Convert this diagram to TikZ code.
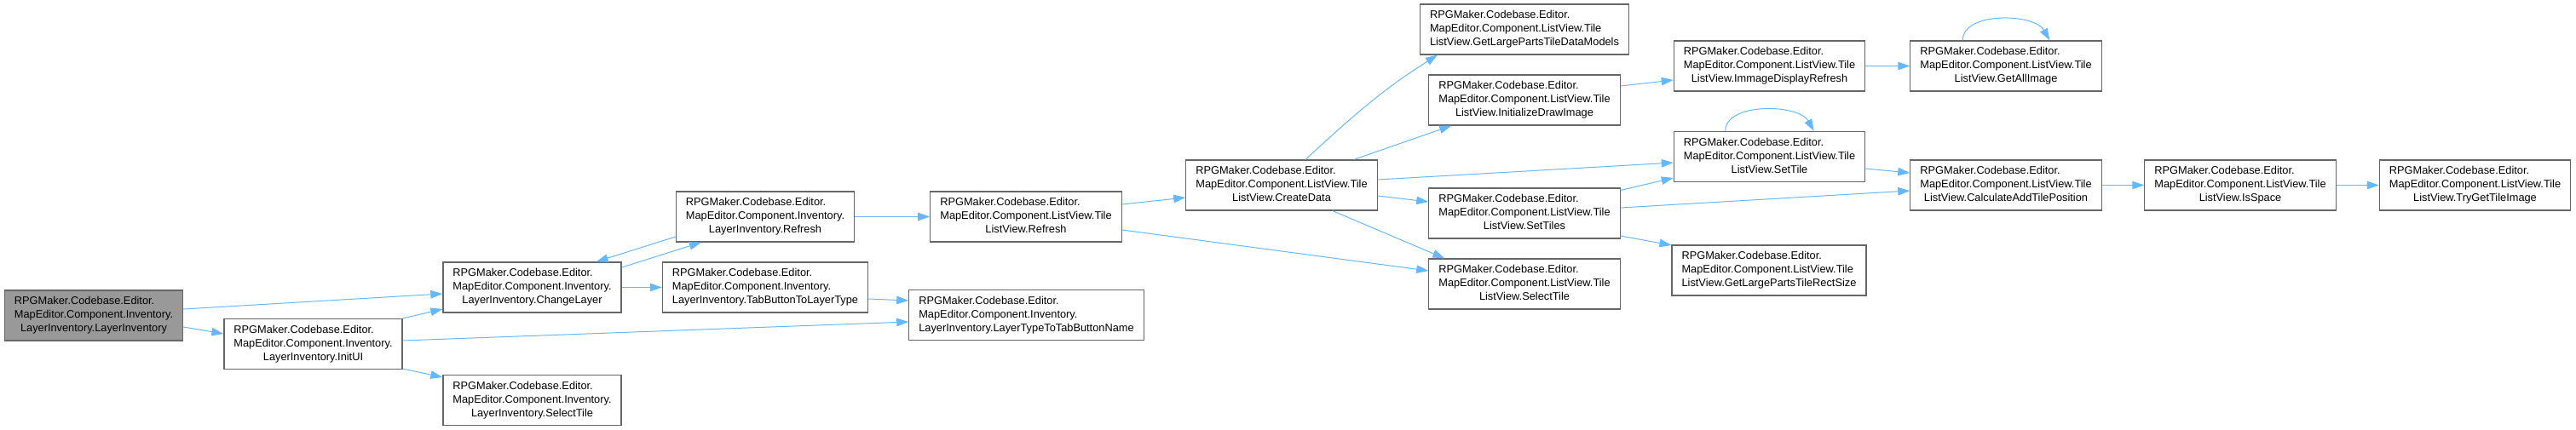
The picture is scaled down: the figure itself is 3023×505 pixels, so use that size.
\documentclass[tikz,border=0pt]{standalone}
\usepackage{fontspec}
\setmainfont{Liberation Sans}
\usetikzlibrary{arrows.meta,calc}
\definecolor{edg}{HTML}{63B8FF}
\definecolor{brd}{HTML}{666666}
\definecolor{rootfill}{HTML}{999999}
\newcommand{\inv}[1]{\begin{tabular}{@{}l@{}}RPGMaker.Codebase.Editor.\\MapEditor.Component.Inventory.\\\multicolumn{1}{@{}c@{}}{#1}\end{tabular}}
\newcommand{\tlv}[1]{\begin{tabular}{@{}l@{}}RPGMaker.Codebase.Editor.\\MapEditor.Component.ListView.Tile\\\multicolumn{1}{@{}c@{}}{ListView.#1}\end{tabular}}
\tikzset{
  fn/.style={draw=brd,line width=1.2pt,fill=white,inner xsep=11.5pt,inner ysep=5.5pt,
    minimum height=59pt,font=\fontsize{12.8}{16}\selectfont},
  call/.style={draw=edg,line width=1pt,-{Triangle[length=14pt,width=9.5pt]}}
}

\begin{document}
\begin{tikzpicture}[x=1pt,y=-1pt]
  \useasboundingbox (0,0) rectangle (3023,505);
  % functions, one column per call depth
  \node[fn,fill=rootfill] (root) at (110,370.5) {\inv{LayerInventory.LayerInventory}};
  \node[fn] (initui)   at (367.5,404)  {\inv{LayerInventory.InitUI}};
  \node[fn] (chglayer) at (624.5,337.5){\inv{LayerInventory.ChangeLayer}};
  \node[fn] (lselect)  at (624.5,470)  {\inv{LayerInventory.SelectTile}};
  \node[fn] (lrefresh) at (898,254.5)  {\inv{LayerInventory.Refresh}};
  \node[fn] (tabbtn)   at (898,337.5)  {\inv{LayerInventory.TabButtonToLayerType}};
  \node[fn] (trefresh) at (1204,254.5) {\tlv{Refresh}};
  \node[fn] (ltotab)   at (1204.5,370) {\inv{LayerInventory.LayerTypeToTabButtonName}};
  \node[fn] (cdata)    at (1504,217.5) {\tlv{CreateData}};
  \node[fn] (glmodels) at (1789,34.5)  {\tlv{GetLargePartsTileDataModels}};
  \node[fn] (idraw)    at (1789,117.5) {\tlv{InitializeDrawImage}};
  \node[fn] (stiles)   at (1789,250.5) {\tlv{SetTiles}};
  \node[fn] (tselect)  at (1789,333.5) {\tlv{SelectTile}};
  \node[fn] (idisp)    at (2076.5,77.5){\tlv{ImmageDisplayRefresh}};
  \node[fn] (stile)    at (2076.5,184) {\tlv{SetTile}};
  \node[fn] (rsize)    at (2076,317.5) {\tlv{GetLargePartsTileRectSize}};
  \node[fn] (gall)     at (2354,77.5)  {\tlv{GetAllImage}};
  \node[fn] (calcpos)  at (2354,217.5) {\tlv{CalculateAddTilePosition}};
  \node[fn] (isspace)  at (2629,217.5) {\tlv{IsSpace}};
  \node[fn] (tgetimg)  at (2904.5,217.5){\tlv{TryGetTileImage}};

  % calls
  \draw[call] ($(root.east)+(0,-7.5)$) -- ($(chglayer.west)+(0,7.5)$);
  \draw[call] ($(root.east)+(0,13.5)$) -- ($(initui.west)+(0,-12)$);
  \draw[call] (initui.north east) -- ($(chglayer.west)+(0,25.5)$);
  \draw[call] ($(initui.east)+(0,-4)$) -- ($(ltotab.west)+(0,8)$);
  \draw[call] ($(initui.south east)+(0,-1)$) -- ($(lselect.west)+(0,-27)$);
  \draw[call] ($(chglayer.east)+(0,-23.5)$) -- ($(lrefresh.south west)+(30,0)$);
  \draw[call] ($(lrefresh.west)+(0,23.5)$) -- ($(chglayer.north east)+(-30,0)$);
  \draw[call] (chglayer.east) -- (tabbtn.west);
  \draw[call] ($(tabbtn.east)+(0,13.5)$) -- ($(ltotab.west)+(0,-17)$);
  \draw[call] (lrefresh.east) -- (trefresh.west);
  \draw[call] ($(trefresh.east)+(0,-14.5)$) -- ($(cdata.west)+(0,14.5)$);
  \draw[call] ($(trefresh.east)+(0,15.5)$) -- ($(tselect.west)+(0,-15.5)$);
  \draw[call] ($(cdata.north)+(28,0)$) .. controls +(70,-65) and +(-55,35) .. ($(glmodels.south west)+(21,0)$);
  \draw[call] ($(cdata.north east)+(-28,0)$) -- ($(idraw.south west)+(27,0)$);
  \draw[call] ($(cdata.east)+(0,-6.5)$) -- ($(stile.west)+(0,7)$);
  \draw[call] ($(cdata.east)+(0,12.5)$) -- ($(stiles.west)+(0,-13.5)$);
  \draw[call] ($(cdata.south east)+(-53,0)$) -- ($(tselect.north west)+(19,0)$);
  \draw[call] ($(idraw.east)+(0,-16.5)$) -- ($(idisp.west)+(0,16.5)$);
  \draw[call] (idisp.east) -- (gall.west);
  \draw[call] ($(gall.north west)+(62,0)$) .. controls +(0,-34) and +(-18,-32) .. ($(gall.north west)+(164,0)$);
  \draw[call] ($(stile.north west)+(61,0)$) .. controls +(0,-34) and +(-18,-32) .. ($(stile.north west)+(165,0)$);
  \draw[call] ($(stile.east)+(0,14)$) -- ($(calcpos.west)+(0,-14.5)$);
  \draw[call] ($(stiles.north east)+(0,3)$) -- ($(stile.west)+(0,25)$);
  \draw[call] ($(stiles.east)+(0,-6.5)$) -- ($(calcpos.west)+(0,6.5)$);
  \draw[call] ($(stiles.east)+(0,26.5)$) -- ($(rsize.west)+(0,-29.5)$);
  \draw[call] (calcpos.east) -- (isspace.west);
  \draw[call] (isspace.east) -- (tgetimg.west);
\end{tikzpicture}
\end{document}
